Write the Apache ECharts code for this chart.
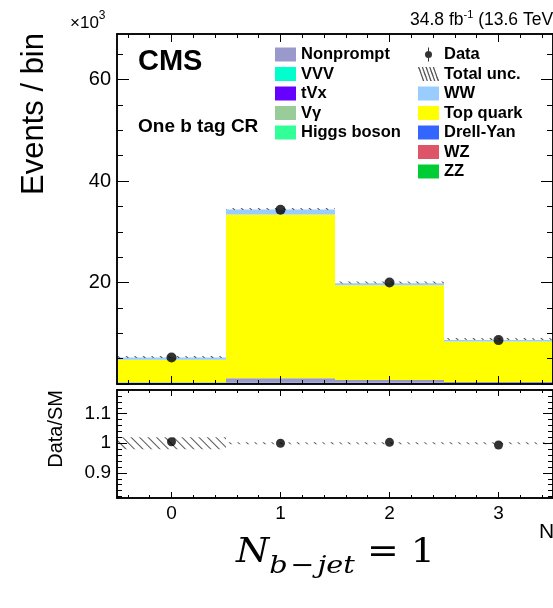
<!DOCTYPE html>
<html>
<head>
<meta charset="utf-8">
<script src="https://cdn.jsdelivr.net/npm/echarts@6/dist/echarts.min.js"></script>
<style>
  html, body { margin: 0; background: #fff; }
  #chart { width: 553px; height: 608px; }
</style>
</head>
<body>
<div id="chart"></div>
<script>
const bins = ["0", "1", "2", "3"];

// backgrounds in thousands of events, listed from the bottom of the stack up
const zz = [0.04, 0.05, 0.04, 0.03];
const wz = [0.04, 0.06, 0.05, 0.03];
const drellYan = [0.08, 0.1, 0.08, 0.05];
const higgs = [0.03, 0.05, 0.04, 0.02];
const vGamma = [0.02, 0.03, 0.02, 0.01];
const tVx = [0.01, 0.05, 0.05, 0.04];
const vvv = [0.003, 0.005, 0.005, 0.003];
const nonprompt = [0.12, 0.8, 0.5, 0.2];
const topQuark = [4.43, 32.25, 18.7, 8.0];
const ww = [0.45, 1.0, 0.4, 0.3];

const data = [5.22, 34.35, 20.0, 8.65];
const ratio = [1.005, 1.0, 1.003, 0.994];
const relUnc = [0.02, 0.003, 0.003, 0.003];

const mainMajor = [0, 20, 40, 60];
const mainLabels = [20, 40, 60];
const mainMinor = [5, 10, 15, 25, 30, 35, 45, 50, 55, 65];
const ratioMajor = [0.9, 1, 1.1];
const ratioMinor = [0.82, 0.84, 0.86, 0.88, 0.92, 0.94, 0.96, 0.98, 1.02, 1.04, 1.06, 1.08, 1.12, 1.14, 1.16, 1.18];
const xMajor = [0, 1, 2, 3];
const xMinor = [-0.4, -0.2, 0.2, 0.4, 0.6, 0.8, 1.2, 1.4, 1.6, 1.8, 2.2, 2.4, 2.6, 2.8, 3.2, 3.4];

const stack = [
  { name: "ZZ", data: zz, color: "#00cc33" },
  { name: "WZ", data: wz, color: "#dd5566" },
  { name: "Drell-Yan", data: drellYan, color: "#3366ff" },
  { name: "Higgs boson", data: higgs, color: "#33ff99" },
  { name: "Vγ", data: vGamma, color: "#99cc99" },
  { name: "tVx", data: tVx, color: "#6600ff" },
  { name: "VVV", data: vvv, color: "#00ffcc" },
  { name: "Nonprompt", data: nonprompt, color: "#9999cc" },
  { name: "Top quark", data: topQuark, color: "#ffff00" },
  { name: "WW", data: ww, color: "#99ccff" },
];
const total = bins.map((_, i) => stack.reduce((s, b) => s + b.data[i], 0));

const font = "Liberation Sans, Helvetica, Arial, sans-serif";
const hatch = {
  color: "rgba(0,0,0,0)",
  decal: { symbol: "rect", symbolSize: 1, color: "#555", dashArrayX: [1, 0], dashArrayY: [1, 5], rotation: Math.PI / 4 },
};

const MAIN = { left: 117, top: 34, width: 440, height: 350 };
const RATIO = { left: 117, top: 390, width: 440, height: 108 };

function xTickAxis(grid, pos, vals, len, labels) {
  return {
    type: "value", gridIndex: grid, position: pos, min: -0.5, max: 3.5, z: 5,
    axisLine: { show: true, onZero: false, lineStyle: { color: "#000", width: 1.5 } },
    axisTick: { show: true, inside: true, length: len, customValues: vals, lineStyle: { color: "#000" } },
    axisLabel: labels
      ? { show: true, customValues: labels, color: "#000", fontSize: 19, fontFamily: font, margin: 6 }
      : { show: false },
    splitLine: { show: false },
  };
}

function yTickAxis(grid, pos, min, max, vals, len, labels, size, fmt) {
  return {
    type: "value", gridIndex: grid, position: pos, min, max, z: 5,
    axisLine: { show: true, onZero: false, lineStyle: { color: "#000", width: 1.5 } },
    axisTick: { show: true, inside: true, length: len, customValues: vals, lineStyle: { color: "#000" } },
    axisLabel: labels
      ? { show: true, customValues: labels, color: "#000", fontSize: size, fontFamily: font, margin: 6, formatter: fmt }
      : { show: false },
    splitLine: { show: false },
  };
}

const ratioFmt = (v) => (Math.abs(v - 1) < 1e-6 ? "1" : String(Math.round(v * 10) / 10));

const dataIcon = "path://M4.5,0h1v14h-1z M5,3.5a3.5,3.5 0 1,1 0,7a3.5,3.5 0 1,1 0,-7z";
const hatchIcon =
  "path://M0,0L1.3,0L6.3,14L5,14Z M3.7,0L5,0L10,14L8.7,14Z M7.4,0L8.7,0L13.7,14L12.4,14Z M11.1,0L12.4,0L17.4,14L16.1,14Z M14.7,0L16,0L21,14L19.7,14Z";

const legendBase = {
  orient: "vertical", top: 46, padding: 0, itemWidth: 21, itemHeight: 14, itemGap: 2.5,
  textStyle: { color: "#000", fontSize: 16.5, fontWeight: "bold", fontFamily: font },
  selectedMode: false,
};

const chart = echarts.init(document.getElementById("chart"));
chart.setOption({
  animation: false,
  backgroundColor: "#fff",
  grid: [MAIN, RATIO],
  xAxis: [
    { type: "category", gridIndex: 0, data: bins, show: false },
    xTickAxis(0, "bottom", xMinor, 4),
    xTickAxis(0, "bottom", xMajor, 8),
    xTickAxis(0, "top", xMinor, 4),
    xTickAxis(0, "top", xMajor, 8),
    { type: "category", gridIndex: 1, data: bins, show: false },
    xTickAxis(1, "bottom", xMinor, 3),
    xTickAxis(1, "bottom", xMajor, 6, xMajor),
    xTickAxis(1, "top", xMinor, 3),
    xTickAxis(1, "top", xMajor, 6),
  ],
  yAxis: [
    yTickAxis(0, "left", 0, 69, mainMajor, 12, mainLabels, 20),
    yTickAxis(0, "left", 0, 69, mainMinor, 6),
    yTickAxis(0, "right", 0, 69, mainMajor, 12),
    yTickAxis(0, "right", 0, 69, mainMinor, 6),
    yTickAxis(1, "left", 0.815, 1.18, ratioMajor, 10, ratioMajor, 19, ratioFmt),
    yTickAxis(1, "left", 0.815, 1.18, ratioMinor, 5),
    yTickAxis(1, "right", 0.815, 1.18, ratioMajor, 10),
    yTickAxis(1, "right", 0.815, 1.18, ratioMinor, 5),
  ],
  legend: [
    { ...legendBase, left: 275, icon: "rect", data: ["Nonprompt", "VVV", "tVx", "Vγ", "Higgs boson"] },
    {
      ...legendBase, left: 418,
      data: [
        { name: "Data", icon: dataIcon },
        { name: "Total unc.", icon: hatchIcon, itemStyle: { color: "#555" } },
        { name: "WW", icon: "rect" },
        { name: "Top quark", icon: "rect" },
        { name: "Drell-Yan", icon: "rect" },
        { name: "WZ", icon: "rect" },
        { name: "ZZ", icon: "rect" },
      ],
    },
  ],
  series: [
    ...stack.map((b) => ({
      name: b.name, type: "bar", stack: "bkg", xAxisIndex: 0, yAxisIndex: 0,
      data: b.data, barWidth: "100%", barGap: "-100%", itemStyle: { color: b.color }, z: 2,
    })),
    {
      name: "uncBase", type: "bar", stack: "unc", xAxisIndex: 0, yAxisIndex: 0, silent: true,
      data: total.map((t, i) => t * (1 - relUnc[i])), barWidth: "100%", barGap: "-100%",
      itemStyle: { color: "rgba(0,0,0,0)" }, z: 3,
    },
    {
      name: "Total unc.", type: "bar", stack: "unc", xAxisIndex: 0, yAxisIndex: 0,
      data: total.map((t, i) => 2 * t * relUnc[i]), barWidth: "100%", barGap: "-100%", barMinHeight: 2, itemStyle: hatch, z: 3,
    },
    {
      name: "Data", type: "scatter", xAxisIndex: 0, yAxisIndex: 0, data, symbolSize: 10,
      itemStyle: { color: "#000" }, z: 6,
    },
    {
      name: "ratioBase", type: "bar", stack: "runc", xAxisIndex: 5, yAxisIndex: 4, silent: true,
      data: relUnc.map((u) => 1 - u), barWidth: "100%", itemStyle: { color: "rgba(0,0,0,0)" }, z: 3,
    },
    {
      name: "Total unc.", type: "bar", stack: "runc", xAxisIndex: 5, yAxisIndex: 4,
      data: relUnc.map((u) => 2 * u), barWidth: "100%", itemStyle: hatch, z: 3,
    },
    {
      name: "Data", type: "scatter", xAxisIndex: 5, yAxisIndex: 4, data: ratio, symbolSize: 9,
      itemStyle: { color: "#000" }, z: 6,
    },
  ],
  graphic: [
    {
      type: "text", x: 34, y: 33, rotation: Math.PI / 2,
      style: { text: "Events / bin", fontSize: 31, fontFamily: font, fill: "#000", align: "right", verticalAlign: "middle" },
    },
    {
      type: "text", x: 56, y: 390, rotation: Math.PI / 2,
      style: { text: "Data/SM", fontSize: 20, fontFamily: font, fill: "#000", align: "right", verticalAlign: "middle" },
    },
    {
      type: "text", x: 70, y: 10,
      style: {
        text: "{a|×10}{b|3}", fill: "#000",
        rich: {
          a: { fontSize: 17, fontFamily: font, verticalAlign: "bottom", lineHeight: 22 },
          b: { fontSize: 12, fontFamily: font, verticalAlign: "top", lineHeight: 22 },
        },
      },
    },
    {
      type: "text", x: 410, y: 9,
      style: {
        text: "{a|34.8 fb}{b|-1}{a| (13.6 TeV)}", fill: "#000",
        rich: {
          a: { fontSize: 17.5, fontFamily: font, verticalAlign: "bottom", lineHeight: 20 },
          b: { fontSize: 11, fontFamily: font, verticalAlign: "top", lineHeight: 20 },
        },
      },
    },
    {
      type: "text", x: 138, y: 62,
      style: { text: "CMS", fontSize: 29, fontWeight: "bold", fontFamily: font, fill: "#000", verticalAlign: "middle" },
    },
    {
      type: "text", x: 138, y: 127,
      style: { text: "One b tag CR", fontSize: 19, fontWeight: "bold", fontFamily: font, fill: "#000", verticalAlign: "middle" },
    },
    {
      type: "text", x: 539, y: 532,
      style: { text: "N", fontSize: 21, fontFamily: font, fill: "#000", verticalAlign: "middle" },
    },
    {
      type: "text", x: 236, y: 539, scaleX: 1.15,
      style: {
        text: "{n|N}{s|b\u200a−\u200ajet}{e| = 1}", fill: "#000",
        rich: {
          n: { fontSize: 33, fontStyle: "italic", fontFamily: "DejaVu Serif", verticalAlign: "bottom", lineHeight: 40, padding: [0, 0, 9, 0] },
          s: { fontSize: 25, fontStyle: "italic", fontFamily: "DejaVu Serif", verticalAlign: "bottom", lineHeight: 40 },
          e: { fontSize: 33, fontFamily: "DejaVu Serif", verticalAlign: "bottom", lineHeight: 40, padding: [0, 0, 9, 0] },
        },
      },
    },
  ],
});
</script>
</body>
</html>
